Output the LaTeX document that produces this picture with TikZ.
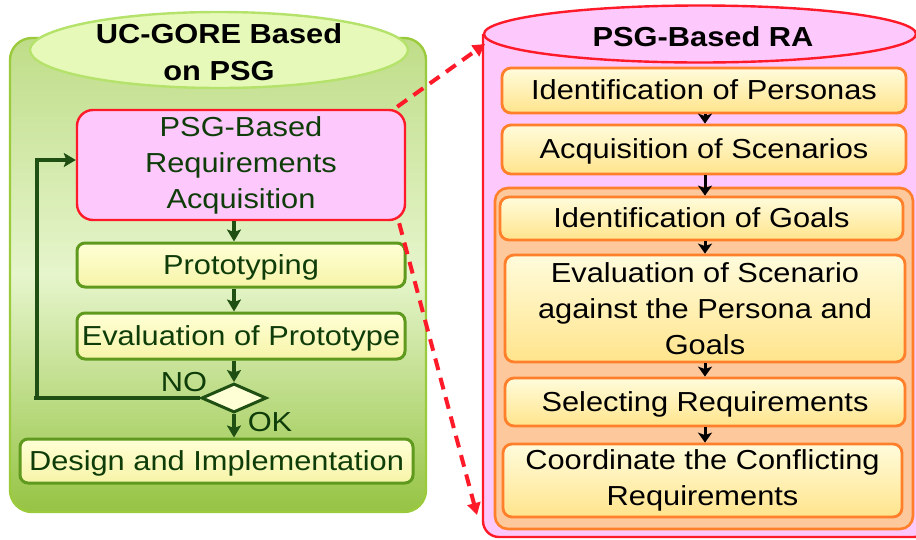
\documentclass[tikz,border=0pt]{standalone}
\usepackage{fontspec}
\setmainfont{Liberation Sans}[FakeStretch=1.12]
\usetikzlibrary{arrows.meta,shapes.geometric}

\definecolor{grnEdge}{HTML}{9BCB3C}
\definecolor{grnTop}{HTML}{BFDD88}
\definecolor{grnMid}{HTML}{E6F5CC}
\definecolor{grnBot}{HTML}{96C444}
\definecolor{grnCap}{HTML}{E6F9B9}
\definecolor{grnCapEdge}{HTML}{B5E26A}
\definecolor{boxGrn}{HTML}{5F9A1E}
\definecolor{darkGrn}{HTML}{1F4F12}
\definecolor{txtGrn}{HTML}{0F3D0A}
\definecolor{paleYel}{HTML}{FFFFD6}
\definecolor{yelBot}{HTML}{F6F4A8}
\definecolor{pinkFill}{HTML}{FDC8FB}
\definecolor{redLine}{HTML}{FF1A2A}
\definecolor{orgFill}{HTML}{FDC89B}
\definecolor{orgLine}{HTML}{FF7F2A}
\definecolor{creamTop}{HTML}{FFFCDC}
\definecolor{goldBot}{HTML}{FFE48C}

\tikzset{
  txt/.style={font=\fontsize{27.5}{36}\selectfont, align=center, inner sep=0pt},
  oneline/.style={text height=18pt, text depth=0pt},
  gbox/.style={txt, draw=boxGrn, line width=3pt, rounded corners=8pt,
    top color=paleYel, bottom color=yelBot, text=txtGrn},
  rbox/.style={txt, draw=orgLine, line width=2.8pt, rounded corners=9pt,
    top color=creamTop, bottom color=goldBot, text=black},
  garrow/.style={draw=darkGrn, line width=3.8pt,
    -{Stealth[length=12pt,width=14pt,inset=2.5pt]}},
  karrow/.style={draw=black, line width=3pt,
    -{Stealth[length=10pt,width=14pt,inset=2.5pt]}},
  reddash/.style={draw=redLine, line width=4pt, dash pattern=on 12pt off 8pt,
    -{Triangle[length=12pt,width=13pt]}}
}

\begin{document}
\begin{tikzpicture}[x=1pt,y=-1pt]
\useasboundingbox (0,0) rectangle (916,539);
\fill[white] (0,0) rectangle (916,539);

% ---------- left cylinder: UC-GORE process ----------
\path[draw=grnEdge, line width=2.4pt, rounded corners=22pt,
  top color=grnTop, bottom color=grnBot, middle color=grnMid]
  (10,38) rectangle (426,512);
\node[ellipse, draw=grnCapEdge, fill=grnCap, line width=2.4pt,
  minimum width=378pt, minimum height=76pt, inner sep=0pt] (lcap) at (219,50) {};
\node[txt, font=\fontsize{27.5}{37}\selectfont\bfseries] (ltitle) at (219,52)
  {UC-GORE Based\\on PSG};

\node[txt, draw=redLine, line width=2.4pt, rounded corners=16pt, fill=pinkFill,
  text=txtGrn, minimum width=328pt, minimum height=110pt] (acq) at (241,165)
  {PSG-Based\\Requirements\\Acquisition};
\node[gbox, oneline, minimum width=328pt, minimum height=44pt] (proto) at (241,265)
  {Prototyping};
\node[gbox, oneline, minimum width=328pt, minimum height=46pt] (evalp) at (241,336)
  {Evaluation of Prototype};
\node[diamond, draw=darkGrn, fill=paleYel, line width=3pt, aspect=2.2,
  minimum width=65pt, minimum height=29pt, inner sep=0pt] (dia) at (234,398) {};
\node[gbox, oneline, minimum width=393pt, minimum height=44pt] (design) at (216.5,461)
  {Design and Implementation};
\node[txt, text=txtGrn] (no) at (184,382) {NO};
\node[txt, text=txtGrn] (ok) at (270,422) {OK};

\draw[garrow] (acq.south -| dia) -- (proto.north -| dia);
\draw[garrow] (proto.south -| dia) -- (evalp.north -| dia);
\draw[garrow] (evalp.south -| dia) -- (dia.north);
\draw[garrow] (dia.south) -- (design.north -| dia);
\coordinate (loop) at (37,160);
\draw[darkGrn, line width=3.8pt] (dia.west) -- (34,398);
\draw[garrow] (37,399.9) -- (loop) -- (acq.west |- loop);

% ---------- right cylinder: PSG-based RA ----------
\path[draw=redLine, line width=2.4pt, fill=pinkFill, rounded corners=16pt]
  (483,34) -- (483,537) -- (930,537) -- (930,34);
\node[ellipse, draw=redLine, fill=pinkFill, line width=2.4pt,
  minimum width=432pt, minimum height=57pt, inner sep=0pt] (rcap) at (700,34) {};
\node[txt, font=\fontsize{27.5}{36}\selectfont\bfseries] (rtitle) at (703,37)
  {PSG-Based RA};

\path[draw=orgLine, line width=2.6pt, fill=orgFill, rounded corners=13pt]
  (495,188) rectangle (913,529);

\node[rbox, oneline, minimum width=404pt, minimum height=45pt] (pers) at (704,90.5)
  {Identification of Personas};
\node[rbox, oneline, minimum width=404pt, minimum height=49pt] (scen) at (704,149.5)
  {Acquisition of Scenarios};
\node[rbox, oneline, minimum width=403pt, minimum height=43pt] (goals) at (701.5,218.5)
  {Identification of Goals};
\node[rbox, minimum width=400pt, minimum height=107pt] (evals) at (705,308.5)
  {Evaluation of Scenario\\against the Persona and\\Goals};
\node[rbox, oneline, minimum width=400pt, minimum height=48pt] (sel) at (705,402)
  {Selecting Requirements};
\node[rbox, minimum width=399pt, minimum height=73pt] (coord) at (702.5,480.5)
  {Coordinate the Conflicting\\Requirements};

\coordinate (ax) at (705,0);
\draw[karrow] (pers.south -| ax) -- (scen.north -| ax);
\draw[karrow] (scen.south -| ax) -- (goals.north -| ax);
\draw[karrow] (goals.south -| ax) -- (evals.north -| ax);
\draw[karrow] (evals.south -| ax) -- (sel.north -| ax);
\draw[karrow] (sel.south -| ax) -- (coord.north -| ax);

% ---------- zoom-in links ----------
\coordinate (cylTop) at (485,44);
\coordinate (cylBot) at (477,515);
\draw[reddash] ([xshift=-9pt,yshift=2pt]acq.north east) -- (cylTop);
\draw[reddash] ([xshift=-7pt,yshift=-2pt]acq.south east) -- (cylBot);
\end{tikzpicture}
\end{document}
